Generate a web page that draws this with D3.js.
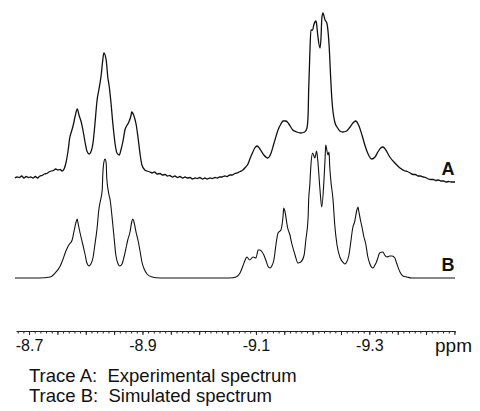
<!DOCTYPE html>
<html lang="en">
<head>
    <meta charset="UTF-8">
    <title>NMR spectrum</title>
    <style>
        body { margin: 0; background: #fff; }
        svg { display: block; }
        text { font-family: "Liberation Sans", Arial, sans-serif; fill: #111; }
    </style>
</head>
<body>
    <div id="graph"></div>
    <script src="https://d3js.org/d3.v7.min.js"></script>
    <script>
        // data: [ppm, intensity (a.u.)]
        var traceA = [
            [-8.675, 0], [-8.679, 1], [-8.683, 0.5], [-8.687, 2], [-8.691, 0], [-8.695, 1.5],
            [-8.699, 0.5], [-8.703, 1], [-8.707, 0], [-8.711, 1.5], [-8.715, 0], [-8.719, 2],
            [-8.723, 2.5], [-8.727, 4], [-8.731, 4.5], [-8.735, 6], [-8.739, 7], [-8.743, 7.5],
            [-8.747, 9], [-8.751, 8], [-8.755, 8.5], [-8.758, 7], [-8.760, 7.5],
            [-8.765, 15], [-8.769, 28], [-8.772, 41], [-8.774, 45], [-8.778, 53], [-8.781, 61],
            [-8.785, 69], [-8.788, 63], [-8.792, 56], [-8.795, 48], [-8.799, 35], [-8.802, 27],
            [-8.806, 24], [-8.809, 26], [-8.813, 36], [-8.816, 53], [-8.820, 78], [-8.823, 88],
            [-8.827, 102], [-8.830, 118], [-8.832, 125], [-8.836, 118], [-8.839, 100], [-8.841, 93],
            [-8.844, 78], [-8.848, 53], [-8.852, 33], [-8.855, 25], [-8.859, 23], [-8.862, 28],
            [-8.866, 38], [-8.869, 48], [-8.873, 53], [-8.876, 56], [-8.880, 63], [-8.881, 66],
            [-8.885, 62], [-8.889, 53], [-8.892, 41], [-8.896, 23], [-8.899, 13], [-8.904, 8],
            [-8.908, 7], [-8.913, 6], [-8.917, 5], [-8.921, 6], [-8.926, 4], [-8.931, 4.5],
            [-8.935, 3], [-8.940, 3.5], [-8.944, 2], [-8.948, 2.5], [-8.953, 1], [-8.957, 2],
            [-8.962, 0.5], [-8.966, 1.5], [-8.971, 0], [-8.975, 1], [-8.979, 0], [-8.984, 0.5],
            [-8.988, -1], [-8.993, 0], [-8.997, -0.5], [-9.001, 0.5], [-9.006, -1], [-9.010, 0],
            [-9.014, -1], [-9.019, 0], [-9.023, -0.5], [-9.028, 0.5], [-9.032, 0], [-9.036, 1],
            [-9.040, 1], [-9.045, 2], [-9.049, 1.5], [-9.054, 3], [-9.058, 3], [-9.063, 4.5],
            [-9.067, 5], [-9.072, 6.5], [-9.077, 8], [-9.082, 11], [-9.086, 14], [-9.090, 20],
            [-9.093, 24], [-9.098, 30], [-9.102, 32], [-9.107, 29], [-9.114, 23], [-9.121, 20],
            [-9.126, 24], [-9.132, 35], [-9.139, 48], [-9.144, 54], [-9.148, 57], [-9.153, 57],
            [-9.158, 54], [-9.165, 48], [-9.172, 46], [-9.179, 45], [-9.186, 46], [-9.190, 50],
            [-9.192, 63], [-9.193, 88], [-9.195, 123], [-9.197, 148], [-9.200, 148], [-9.202, 153],
            [-9.206, 157], [-9.207, 154], [-9.209, 143], [-9.213, 130], [-9.215, 143], [-9.216, 158],
            [-9.218, 165], [-9.222, 158], [-9.225, 155], [-9.229, 133], [-9.232, 98], [-9.234, 78],
            [-9.236, 66], [-9.239, 56], [-9.243, 51], [-9.248, 47], [-9.253, 46], [-9.260, 47],
            [-9.266, 51], [-9.271, 55], [-9.276, 57], [-9.281, 53], [-9.287, 43], [-9.292, 33],
            [-9.297, 25], [-9.304, 19], [-9.310, 21], [-9.315, 26], [-9.320, 30], [-9.324, 31],
            [-9.329, 28], [-9.336, 21], [-9.345, 15], [-9.354, 10], [-9.363, 7], [-9.367, 6.5],
            [-9.372, 5], [-9.377, 3.5], [-9.381, 3.5], [-9.386, 2], [-9.390, 2], [-9.395, 1],
            [-9.399, 0.5], [-9.404, -1], [-9.408, -1.5], [-9.413, -1.5], [-9.417, -2.5], [-9.422, -2],
            [-9.426, -3], [-9.431, -3], [-9.435, -4], [-9.440, -3.5], [-9.444, -4], [-9.451, -4]
        ];

        var traceB = [
            [-8.675, 0], [-8.719, 0], [-8.737, 1], [-8.746, 5], [-8.755, 12], [-8.760, 19],
            [-8.765, 27], [-8.770, 33], [-8.776, 38], [-8.779, 46], [-8.783, 56], [-8.785, 59],
            [-8.786, 56], [-8.790, 45], [-8.792, 40], [-8.795, 33], [-8.799, 23], [-8.802, 15],
            [-8.806, 12], [-8.809, 14], [-8.813, 21], [-8.816, 33], [-8.820, 50], [-8.823, 68],
            [-8.825, 75], [-8.829, 88], [-8.830, 103], [-8.832, 116], [-8.834, 119], [-8.836, 115],
            [-8.837, 100], [-8.841, 83], [-8.843, 78], [-8.846, 63], [-8.850, 40], [-8.853, 23],
            [-8.857, 14], [-8.860, 12], [-8.864, 14], [-8.867, 20], [-8.871, 30], [-8.874, 38],
            [-8.878, 46], [-8.881, 56], [-8.883, 59], [-8.885, 56], [-8.889, 45], [-8.892, 38],
            [-8.896, 26], [-8.899, 16], [-8.903, 9], [-8.908, 4], [-8.917, 1], [-8.931, 0],
            [-9.054, 0], [-9.065, 1], [-9.072, 5], [-9.077, 12], [-9.081, 18], [-9.084, 21],
            [-9.089, 18], [-9.095, 21], [-9.100, 20], [-9.104, 28], [-9.107, 28], [-9.111, 26],
            [-9.114, 23], [-9.118, 17], [-9.121, 12], [-9.125, 10], [-9.128, 12], [-9.132, 19],
            [-9.135, 32], [-9.139, 45], [-9.144, 48], [-9.148, 63], [-9.149, 70], [-9.151, 67],
            [-9.155, 53], [-9.156, 50], [-9.160, 43], [-9.163, 35], [-9.169, 23], [-9.174, 15],
            [-9.179, 16], [-9.185, 23], [-9.188, 38], [-9.192, 60], [-9.193, 78], [-9.195, 93],
            [-9.197, 113], [-9.200, 125], [-9.204, 120], [-9.207, 127], [-9.209, 118], [-9.213, 88],
            [-9.216, 71], [-9.220, 98], [-9.222, 120], [-9.223, 133], [-9.227, 123], [-9.229, 126],
            [-9.230, 113], [-9.232, 98], [-9.236, 78], [-9.239, 53], [-9.243, 33], [-9.248, 21],
            [-9.253, 16], [-9.257, 14], [-9.260, 16], [-9.264, 23], [-9.267, 35], [-9.271, 51],
            [-9.274, 56], [-9.278, 68], [-9.280, 71], [-9.281, 68], [-9.285, 56], [-9.287, 51],
            [-9.290, 42], [-9.294, 33], [-9.297, 22], [-9.301, 14], [-9.306, 10], [-9.311, 14],
            [-9.315, 20], [-9.318, 25], [-9.324, 26], [-9.327, 23], [-9.331, 21], [-9.336, 22],
            [-9.340, 22], [-9.345, 20], [-9.348, 15], [-9.354, 6], [-9.359, 2], [-9.366, 1],
            [-9.375, 0], [-9.451, 0]
        ];

        var traceNames = ["A", "B"];
        var labelTicks = [-8.7, -8.9, -9.1, -9.3];
        var axisUnit = "ppm";
        var legendLines = ["Trace A:  Experimental spectrum", "Trace B:  Simulated spectrum"];

        var width = 480, height = 411;

        var svg = d3.select("#graph").append("svg")
            .attr("width", width)
            .attr("height", height);

        // ppm runs right to left
        var x = d3.scaleLinear().domain([-8.677, -9.451]).range([16, 455]);
        var yA = d3.scaleLinear().domain([0, 165]).range([178, 13]);
        var yB = d3.scaleLinear().domain([0, 133]).range([278, 145]);

        function drawTrace(data, y, w) {
            var line = d3.line()
                .x(function(d) { return x(d[0]); })
                .y(function(d) { return y(d[1]); })
                .curve(d3.curveMonotoneX);
            svg.append("path")
                .datum(data)
                .attr("d", line)
                .attr("fill", "none")
                .attr("stroke", "#111")
                .attr("stroke-width", w)
                .attr("stroke-linejoin", "round");
        }
        drawTrace(traceA, yA, 1.3);
        drawTrace(traceB, yB, 1.1);

        // trace letters
        svg.selectAll(".tlabel")
            .data([[traceNames[0], yA(3)], [traceNames[1], yB(7)]])
            .enter().append("text")
            .attr("x", 448)
            .attr("y", function(d) { return d[1]; })
            .attr("text-anchor", "middle")
            .style("font-size", "18px")
            .style("font-weight", "bold")
            .text(function(d) { return d[0]; });

        // axis
        var axisY = 331;
        var minor = d3.range(-8.68, -9.4505, -0.01);
        var mid = d3.range(-8.7, -9.4505, -0.05);
        var gMinor = svg.append("g")
            .attr("transform", "translate(0," + axisY + ")")
            .call(d3.axisBottom(x).tickValues(minor).tickSize(2.5).tickSizeOuter(0).tickFormat(""));
        var gMid = svg.append("g")
            .attr("transform", "translate(0," + axisY + ")")
            .call(d3.axisBottom(x).tickValues(mid).tickSize(4).tickSizeOuter(0).tickFormat(""));
        gMid.select(".domain").remove();
        var gLab = svg.append("g")
            .attr("transform", "translate(0," + axisY + ")")
            .call(d3.axisBottom(x).tickValues(labelTicks).tickSize(0).tickPadding(9)
                .tickFormat(function(d) { return d.toFixed(1); }));
        gLab.select(".domain").remove();
        svg.selectAll(".tick line, .domain").attr("stroke", "#222").attr("stroke-width", 1);
        gLab.selectAll("text")
            .style("font-size", "16px")
            .style("font-family", "'Liberation Sans', Arial, sans-serif")
            .attr("fill", "#111");

        svg.append("text")
            .attr("x", 435)
            .attr("y", 352)
            .style("font-size", "19px")
            .text(axisUnit);

        // legend text
        svg.selectAll(".legend")
            .data(legendLines)
            .enter().append("text")
            .attr("x", 29)
            .attr("y", function(d, i) { return 382 + i * 20; })
            .style("font-size", "18.5px")
            .style("white-space", "pre")
            .attr("xml:space", "preserve")
            .text(function(d) { return d; });
    </script>
</body>
</html>
